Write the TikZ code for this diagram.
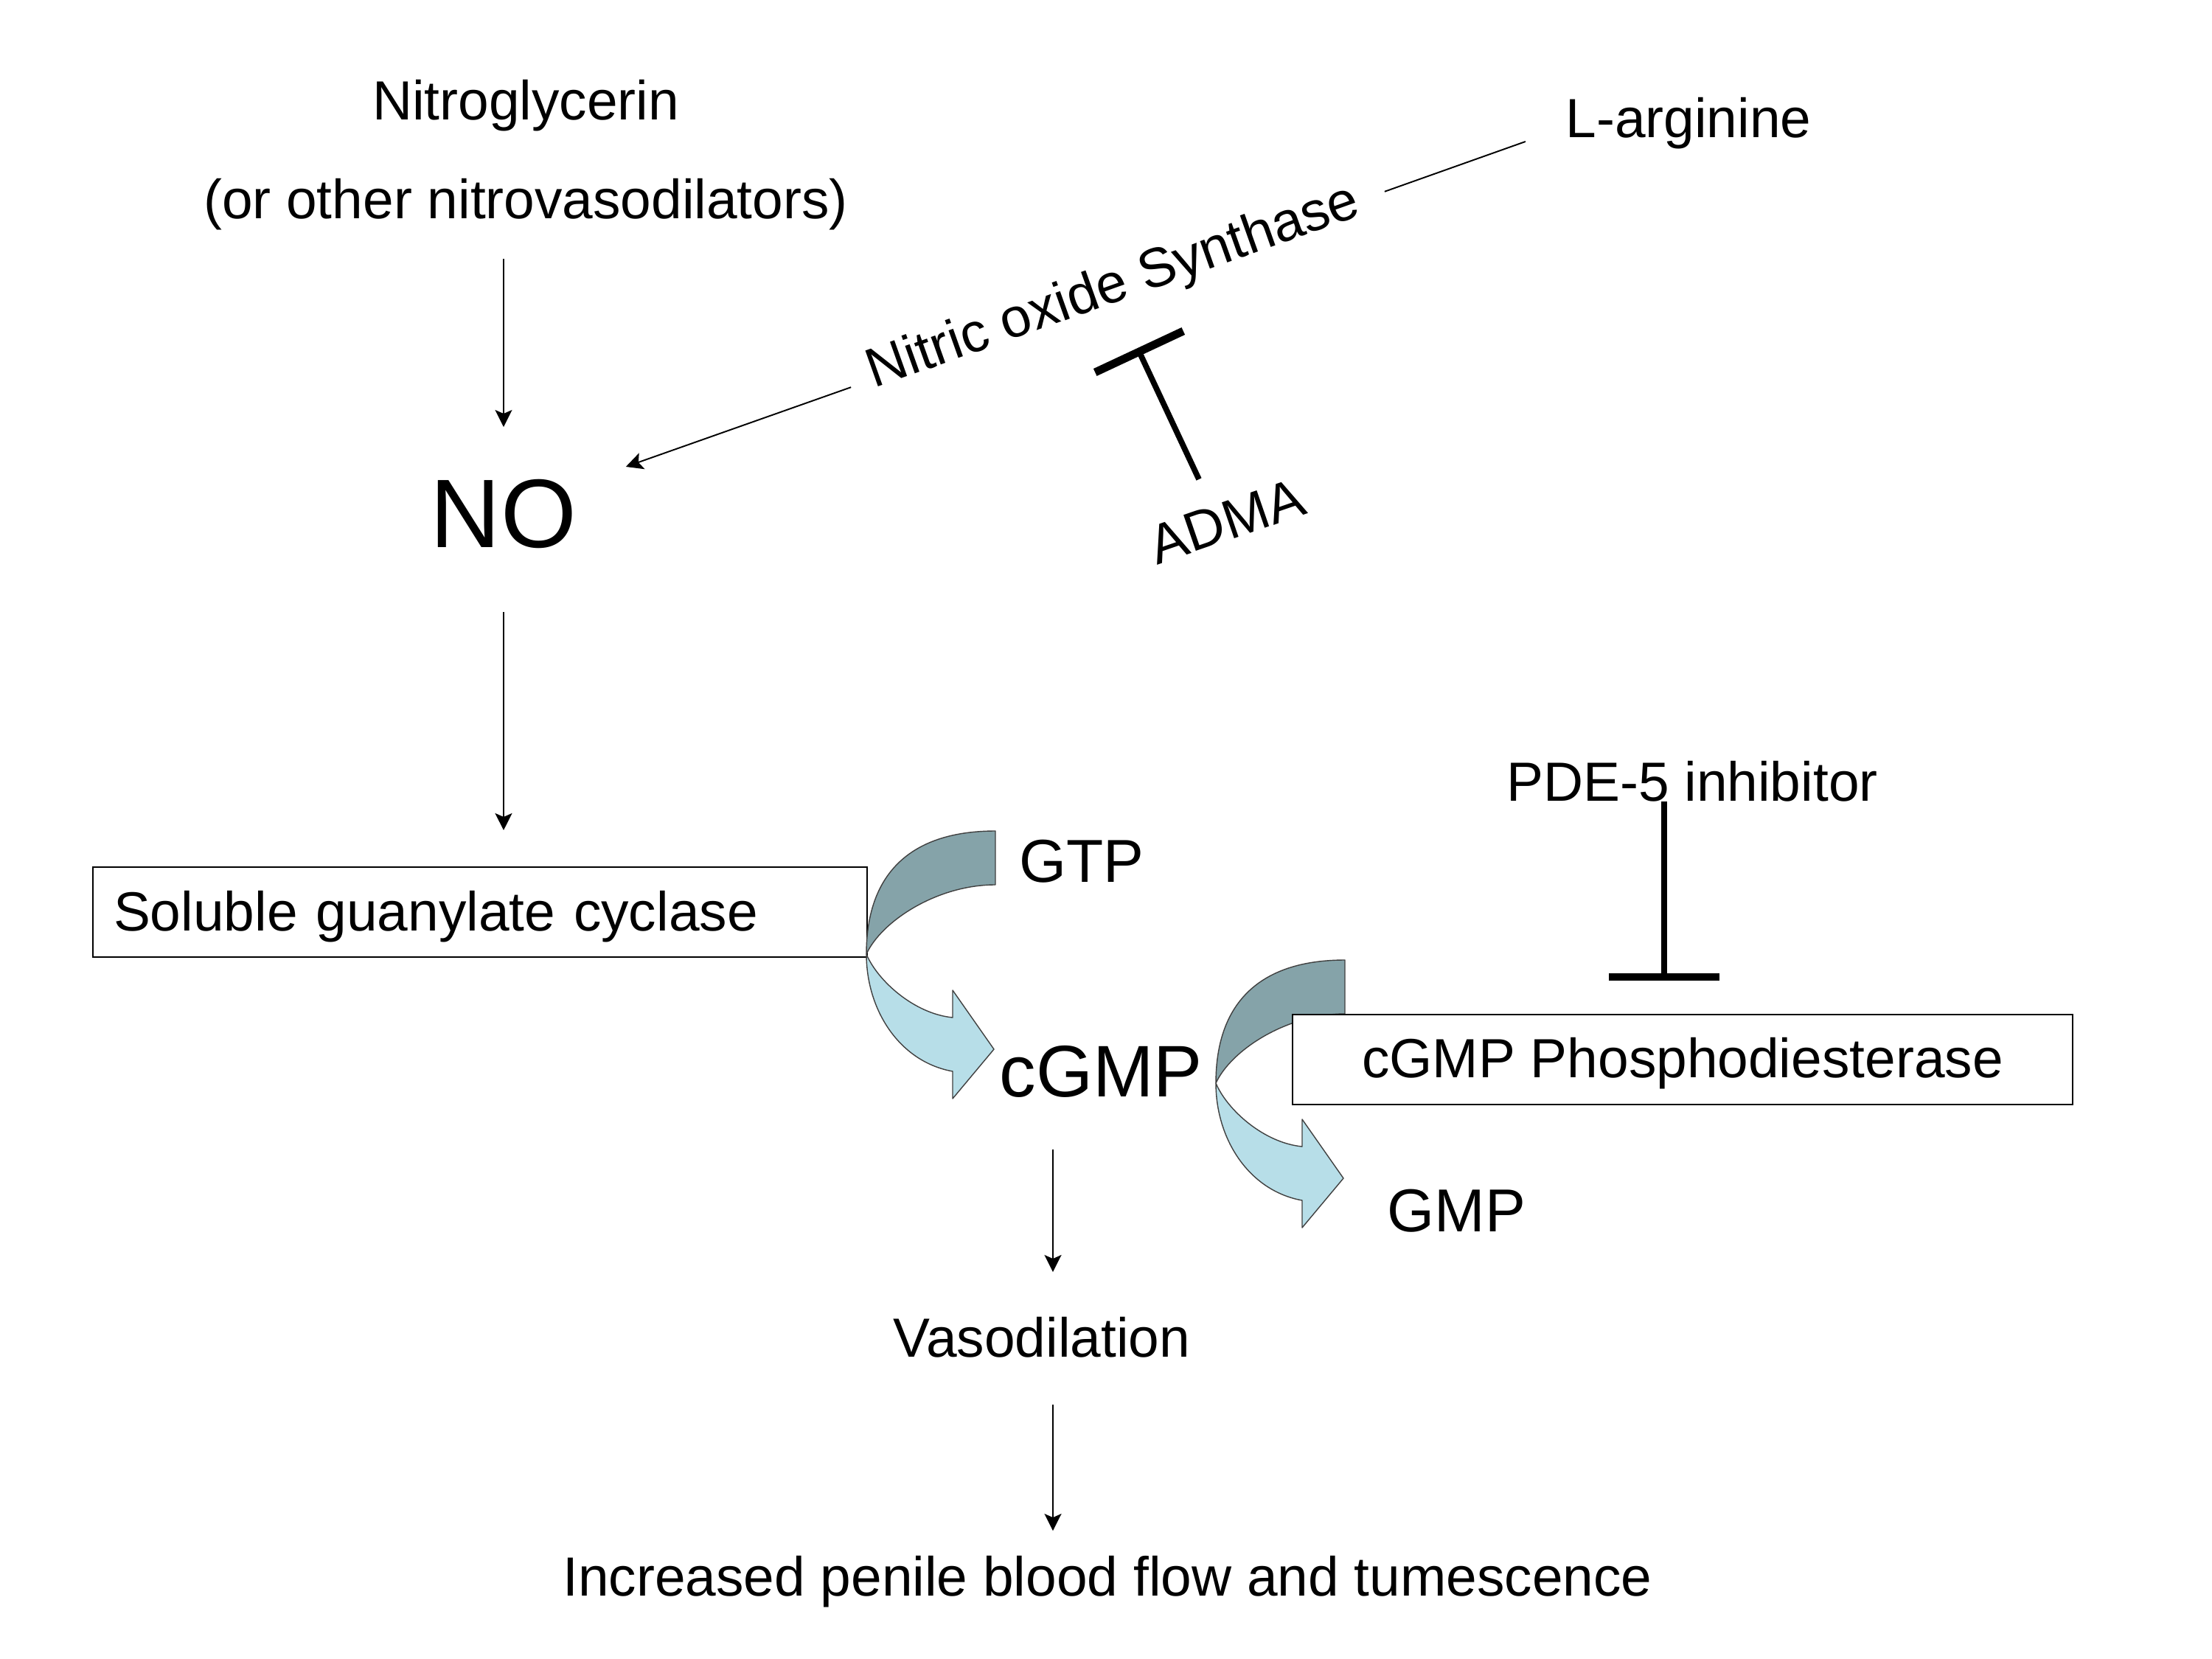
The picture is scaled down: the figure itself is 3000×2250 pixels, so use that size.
\documentclass[tikz,border=0pt]{standalone}
\usepackage{fontspec}
\setmainfont{Liberation Sans}
\usetikzlibrary{arrows.meta,calc}
\definecolor{ribdark}{RGB}{133,163,169}
\definecolor{riblight}{RGB}{183,222,232}
\tikzset{
  txt/.style={inner sep=0pt, font=\fontsize{21.3}{26}\selectfont},
  bigtxt/.style={inner sep=0pt, font=\fontsize{37.6}{44}\selectfont},
  midtxt/.style={inner sep=0pt, font=\fontsize{23.4}{28}\selectfont},
  cgmptxt/.style={inner sep=0pt, font=\fontsize{28.2}{33}\selectfont},
  boxnode/.style={draw=black, line width=0.6pt, fill=white, inner ysep=0pt,
    font=\fontsize{21.3}{26}\selectfont, minimum height=12.2mm},
  arr/.style={line width=0.55pt, -{Stealth[length=2.3mm,width=2.3mm,inset=0.5mm]}},
  plainline/.style={line width=0.55pt},
  inhib/.style={line width=2.2pt},
  inhibbar/.style={line width=3.1pt},
  ribedge/.style={draw=black!75, line width=0.4pt, line join=round},
  ribbon/.pic={
    \path[fill=ribdark, ribedge] (0,0) .. controls (-110,0) and (-175,53) .. (-175,167)
       .. controls (-155,123) and (-80,73) .. (0,73) -- cycle;
    \path[fill=riblight, ribedge] (-175,167) .. controls (-175,243) and (-130,313) .. (-58,326)
       -- (-58,363) -- (-2,296) -- (-58,216) -- (-58,253)
       .. controls (-110,248) and (-160,203) .. (-175,167) -- cycle;
  }
}
\begin{document}
\begin{tikzpicture}[x=0.1mm, y=-0.1mm]
\fill[white] (0,0) rectangle (3000,2250);
\useasboundingbox (0,0) rectangle (3000,2250);

% text nodes
\node[txt, anchor=base] (nitro) at (713,163) {Nitroglycerin};
\node[txt, anchor=base] (nitro2) at (713,297) {(or other nitrovasodilators)};
\node[bigtxt, anchor=base] (NO) at (683,742) {NO};
\node[txt, anchor=base] (larg) at (2290,187) {L-arginine};
\node[txt, anchor=base, rotate=19.6] (nos) at (1517,409) {Nitric oxide Synthase};
\node[txt, anchor=base, rotate=19] (adma) at (1672,731) {ADMA};
\node[txt, anchor=base] (pde) at (2295,1086) {PDE-5 inhibitor};
\node[midtxt, anchor=base west] (gtp) at (1382,1196) {GTP};
\node[cgmptxt, anchor=base west] (cgmp) at (1355,1487) {cGMP};
\node[midtxt, anchor=base west] (gmp) at (1881,1670) {GMP};
\node[txt, anchor=base] (vaso) at (1413,1840) {Vasodilation};
\node[txt, anchor=base] (incr) at (1502,2164) {Increased penile blood flow and tumescence};

% soluble guanylate cyclase box and first curved arrow
\node[boxnode, minimum width=105mm, inner xsep=2.8mm, text width=99.4mm, align=left,
      text height=6mm, text depth=1mm] (sgc) at (651,1237) {Soluble guanylate cyclase};
\pic (gtparrow) at (1350,1127) {ribbon};

% second curved arrow and phosphodiesterase box
\pic (gmparrow) at (1824,1302) {ribbon};
\node[boxnode, minimum width=105.8mm, text height=5.8mm, text depth=1mm] (pdebox) at (2282,1437) {cGMP Phosphodiesterase};

% straight arrows
\draw[arr] ($(nitro2.south -| NO.north)+(0,38)$) -- ($(NO.north)+(0,-70)$);
\draw[arr] ($(NO.south)+(0,86)$) -- ($(sgc.north -| NO.south)+(0,-49)$);
\draw[arr] ($(vaso.north |- cgmp.south)+(15,70)$) -- ($(vaso.north)+(15,-60)$);
\draw[arr] ($(vaso.south)+(15,64)$) -- ($(incr.north -| vaso.south)+(15,-33)$);

% nitric oxide synthase lines
\draw[plainline] ($(nos.base east)+(29,-31)$) -- ($(larg.base west)+(-54,5)$);
\draw[arr] ($(nos.base west)+(-31,-2)$) -- ($(NO.base east)+(66,-109)$);

% ADMA inhibition
\coordinate (admaS) at ($(adma.base)+(-46,-81)$);
\coordinate (admaT) at (1545,477);
\draw[inhib] (admaS) -- (admaT);
\draw[inhibbar] ($(admaT)!6.6mm!90:(admaS)$) -- ($(admaT)!6.6mm!-90:(admaS)$);

% PDE-5 inhibition
\coordinate (pdeS) at ($(pde.south)+(-38,0)$);
\coordinate (pdeT) at (2257,1325);
\draw[inhib] (pdeS) -- (pdeT);
\draw[inhibbar] ($(pdeT)+(-75,0)$) -- ($(pdeT)+(75,0)$);
\end{tikzpicture}
\end{document}
